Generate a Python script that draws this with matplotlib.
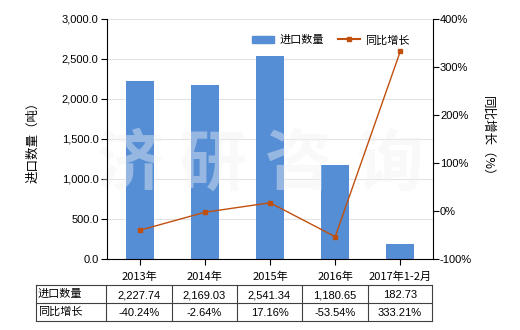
import matplotlib
matplotlib.use("Agg")
import matplotlib.pyplot as plt
from matplotlib.lines import Line2D
import numpy as np

plt.rcParams['font.family'] = ['Noto Sans CJK SC', 'DejaVu Sans']

categories = ["2013年", "2014年", "2015年", "2016年", "2017年1-2月"]
import_qty = [2227.74, 2169.03, 2541.34, 1180.65, 182.73]
yoy_growth = [-40.24, -2.64, 17.16, -53.54, 333.21]
qty_labels = ["2,227.74", "2,169.03", "2,541.34", "1,180.65", "182.73"]
growth_labels = ["-40.24%", "-2.64%", "17.16%", "-53.54%", "333.21%"]
left_ticks = [0, 500, 1000, 1500, 2000, 2500, 3000]
right_ticks = [-100, 0, 100, 200, 300, 400]
watermark_chars = ["济", "研", "咨", "询"]

W, H = 520, 330
fig = plt.figure(figsize=(W / 100, H / 100), dpi=100)
ax = fig.add_axes([107 / W, 1 - 259 / H, (433 - 107) / W, (259 - 19) / H])
ax2 = ax.twinx()

x = np.arange(len(categories))
bar_color = "#558ED5"
line_color = "#C0500F"

ax.bar(x, import_qty, width=0.43, color=bar_color, zorder=2, label="进口数量")
ax.set_xlim(-0.5, len(categories) - 0.5)
ax.set_ylim(0, 3000)
ax.set_yticks(left_ticks)
ax.set_yticklabels([f"{v:,.1f}" for v in left_ticks], fontsize=8, family=['Liberation Sans', 'DejaVu Sans'])
ax.set_xticks(x)
ax.set_xticklabels(categories, fontsize=8)
ax.yaxis.grid(True, color="#E3E3E3", linewidth=0.8, zorder=0)
ax.set_axisbelow(True)
ax.tick_params(axis='y', length=4, width=0.8, pad=2)
ax.tick_params(axis='x', length=4, width=0.8, pad=5)
for s in ["top", "right"]:
    ax.spines[s].set_visible(False)
ax.spines["left"].set_linewidth(0.8)
ax.spines["bottom"].set_linewidth(0.8)
ax.set_ylabel("进口数量（吨）", fontsize=9, labelpad=16)

# watermark (above bars, below line)
wm_x = [130, 213, 298, 390]
for ch, px in zip(watermark_chars, wm_x):
    ax.text(px / W, 1 - 165 / H, ch, transform=fig.transFigure, fontsize=48,
            color="#F2F2F2", alpha=0.42, ha="center", va="center",
            fontweight="bold", zorder=2.5, clip_on=False)

ax2.plot(x, yoy_growth, color=line_color, linewidth=1.0, marker="s", markersize=3.5,
         markerfacecolor=line_color, markeredgecolor=line_color, zorder=3, label="同比增长")
ax2.set_ylim(-100, 400)
ax2.set_yticks(right_ticks)
ax2.set_yticklabels([f"{v}%" for v in right_ticks], fontsize=8, family=['Liberation Sans', 'DejaVu Sans'])
ax2.tick_params(axis='y', length=4, width=0.8, pad=1)
for s in ["top", "left", "bottom"]:
    ax2.spines[s].set_visible(False)
ax2.spines["right"].set_linewidth(0.8)
ax2.set_ylabel("同比增长（%）", fontsize=9, rotation=-90, labelpad=16)

# legend
handles = [plt.Rectangle((0, 0), 1, 1, color=bar_color),
           Line2D([0], [0], color=line_color, marker="s", markersize=3.5, linewidth=1.5)]
ax.legend(handles, ["进口数量", "同比增长"], loc="upper right", bbox_to_anchor=(0.96, 0.975),
          ncol=2, frameon=False, fontsize=8, handlelength=2.0, columnspacing=1.2,
          handletextpad=0.5)

# table
col_edges = [36, 106, 172, 237, 302, 368, 432]
row_edges = [285, 303, 321]
def fx(px): return px / W
def fy(py): return 1 - py / H
lc = "#404040"
for yy in row_edges:
    fig.add_artist(Line2D([fx(col_edges[0]), fx(col_edges[-1])], [fy(yy), fy(yy)], color=lc, linewidth=0.8))
for xx in col_edges:
    fig.add_artist(Line2D([fx(xx), fx(xx)], [fy(row_edges[0]), fy(row_edges[-1])], color=lc, linewidth=0.8))
row_titles = ["进口数量", "同比增长"]
rows = [qty_labels, growth_labels]
for r in range(2):
    yc = (row_edges[r] + row_edges[r + 1]) / 2
    fig.text(fx(col_edges[0] + 2), fy(yc), row_titles[r], fontsize=8, ha="left", va="center")
    for c in range(5):
        xc = (col_edges[c + 1] + col_edges[c + 2]) / 2
        fig.text(fx(xc), fy(yc + 1), rows[r][c], fontsize=8, ha="center", va="center",
                 family=['Liberation Sans', 'DejaVu Sans'])

fig.savefig("out.png", dpi=100)
